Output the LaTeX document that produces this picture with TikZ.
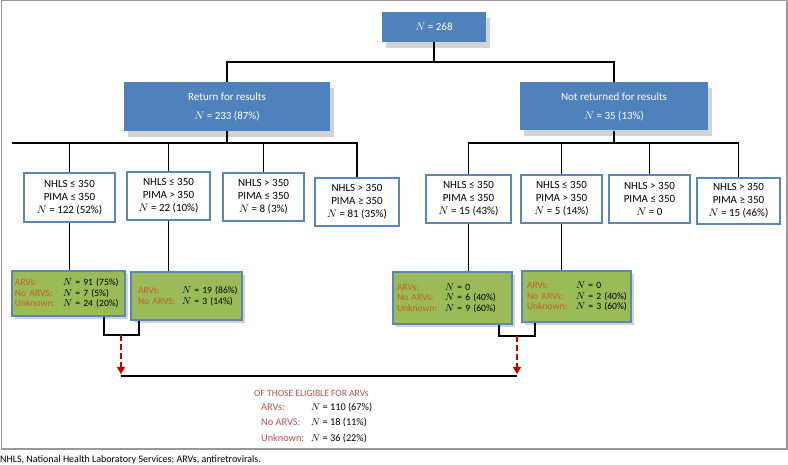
\documentclass[tikz,border=0pt]{standalone}
\usepackage{fontspec}
\setmainfont{Carlito}
\usetikzlibrary{shadows,arrows.meta}
\definecolor{headblue}{HTML}{4F81BD}
\definecolor{edgeblue}{HTML}{5B87B7}
\definecolor{arvgreen}{HTML}{9BBB59}
\definecolor{arvorange}{HTML}{C65F2E}
\definecolor{eligred}{HTML}{C0504D}
\definecolor{arrowred}{HTML}{C00000}
\definecolor{framegrey}{HTML}{999999}
\newcommand{\arv}[3][48pt]{\mbox{\makebox[#1][l]{\textcolor{arvorange}{#2}}#3}}
\newcommand{\elig}[2]{\mbox{\makebox[50pt][l]{\textcolor{eligred}{#1}}#2}}
\tikzset{
  headbox/.style={fill=headblue, text=white, align=center, inner sep=0pt,
    font=\fontsize{11}{13}\selectfont,
    drop shadow={shadow xshift=4pt, shadow yshift=-6pt, opacity=.35}},
  splitbox/.style={draw=edgeblue, line width=1.2pt, fill=white, align=center,
    inner sep=0pt, font=\fontsize{11}{13}\selectfont},
  arvbox/.style={draw=edgeblue, line width=1.2pt, fill=arvgreen, align=left,
    inner sep=0pt, font=\fontsize{9.6}{10.5}\selectfont,
    drop shadow={shadow xshift=3pt, shadow yshift=-3pt, opacity=.35}},
  link/.style={black, line width=1.1pt},
  eligarrow/.style={arrowred, line width=1.4pt, dash pattern=on 6pt off 3pt,
    -{Triangle[length=7pt,width=8pt]}, shorten >=2pt}
}
\begin{document}
\begin{tikzpicture}[x=1pt,y=-1pt]
    \useasboundingbox (0,0) rectangle (788,465);
    \draw[framegrey,line width=1.2pt] (1.2,0.8) rectangle (787,449);
    % all patients ==========================================
    \node[headbox,minimum width=104,minimum height=30] (all)    at (434,27)    {$N$ = 268};
    \node[headbox,minimum width=206,minimum height=49] (ret)    at (227,106.5) {Return for results\\[6pt]$N$ = 233 (87\%)};
    \node[headbox,minimum width=188,minimum height=48] (notret) at (614,106.5) {Not returned for results\\[6pt]$N$ = 35 (13\%)};
    \coordinate (topbus) at (434,62);
    \draw[link] (all) -- (topbus);
    \draw[link] (topbus) -| (ret.north);
    \draw[link] (topbus) -| (notret.north);
    % returned ==============================================
    \node[splitbox,minimum width=91,minimum height=49] (r1) at (69.5,197.5) {NHLS ≤ 350\\PIMA ≤ 350\\$N$ = 122 (52\%)};
    \node[splitbox,minimum width=83,minimum height=48] (r2) at (168.5,196)  {NHLS ≤ 350\\PIMA > 350\\$N$ = 22 (10\%)};
    \node[splitbox,minimum width=81,minimum height=48] (r3) at (263.5,197)  {NHLS > 350\\PIMA ≤ 350\\$N$ = 8 (3\%)};
    \node[splitbox,minimum width=84,minimum height=48] (r4) at (357,202)    {NHLS > 350\\PIMA ≥ 350\\$N$ = 81 (35\%)};
    \coordinate (retbus)    at (227,143);
    \coordinate (retbusend) at (12,143);
    \draw[link] (ret) -- (retbus);
    \draw[link] (retbusend) -- (retbus);
    \draw[link] (retbus) -| (r1.north);
    \draw[link] (retbus) -| (r2.north);
    \draw[link] (retbus) -| (r3.north);
    \draw[link] (retbus) -| (r4.north);
    % not returned ==========================================
    \node[splitbox,minimum width=85,minimum height=48] (n1) at (468.5,199) {NHLS ≤ 350\\PIMA ≤ 350\\$N$ = 15 (43\%)};
    \node[splitbox,minimum width=81,minimum height=48] (n2) at (561.5,199) {NHLS ≤ 350\\PIMA > 350\\$N$ = 5 (14\%)};
    \node[splitbox,minimum width=81,minimum height=48] (n3) at (649.5,199) {NHLS > 350\\PIMA ≤ 350\\$N$ = 0};
    \node[splitbox,minimum width=83,minimum height=46] (n4) at (738.5,201) {NHLS > 350\\PIMA ≥ 350\\$N$ = 15 (46\%)};
    \coordinate (notbus) at (614,143);
    \draw[link] (notret) -- (notbus);
    \draw[link] (notbus) -| (n1.north);
    \draw[link] (notbus) -| (n2.north);
    \draw[link] (notbus) -| (n3.north);
    \draw[link] (notbus) -| (n4.north);
    % ARV outcomes ==========================================
    \node[arvbox,minimum width=113,minimum height=45,text width=107] (g1) at (68.5,293.5)
      {\arv{ARVs:}{$N$ = 91 (75\%)}\\\arv{No ARVS:}{$N$ = 7 (5\%)}\\\arv{Unknown:}{$N$ = 24 (20\%)}};
    \node[arvbox,minimum width=111,minimum height=48,text width=97] (g2) at (186.5,296)
      {\arv[44pt]{ARVs:}{$N$ = 19 (86\%)}\\\arv[44pt]{No ARVS:}{$N$ = 3 (14\%)}};
    \node[arvbox,minimum width=119,minimum height=52,text width=111] (g3) at (452.5,298)
      {\arv{ARVs:}{$N$ = 0}\\\arv{No ARVs:}{$N$ = 6 (40\%)}\\\arv{Unknown:}{$N$ = 9 (60\%)}};
    \node[arvbox,minimum width=109,minimum height=51,text width=99] (g4) at (576.5,296.5)
      {\arv[49pt]{ARVs:}{$N$ = 0}\\\arv[49pt]{No ARVs:}{$N$ = 2 (40\%)}\\\arv[49pt]{Unknown:}{$N$ = 3 (60\%)}};
    \draw[link] (r1.south) -- (r1.south |- g1.north);
    \draw[link] (r2.south) -- (r2.south |- g2.north);
    \draw[link] (n1.south) -- (n1.south |- g3.north);
    \draw[link] (n2.south) -- (n2.south |- g4.north);
    % brackets and eligible total ===========================
    \coordinate (lmergeA) at (104,335); \coordinate (lmerge) at (121,335); \coordinate (lmergeB) at (139,335);
    \coordinate (rmergeA) at (499,336); \coordinate (rmerge) at (517,336); \coordinate (rmergeB) at (535,336);
    \draw[link] (g1.south -| lmergeA) -- (lmergeA) -- (lmergeB) -- (g2.south -| lmergeB);
    \draw[link] (g3.south -| rmergeA) -- (rmergeA) -- (rmergeB) -- (g4.south -| rmergeB);
    \coordinate (eligL) at (121,376);
    \coordinate (eligR) at (517,376);
    \draw[link] (eligL) -- (eligR);
    \draw[eligarrow] (lmerge) -- (eligL);
    \draw[eligarrow] (rmerge) -- (eligR);
    \node[anchor=base west,inner sep=0pt,text=eligred,font=\fontsize{9.6}{12}\selectfont] (eligtitle) at (254,396) {OF THOSE ELIGIBLE FOR ARVs};
    \node[anchor=north west,inner sep=0pt,align=left,font=\fontsize{10.3}{15.5}\selectfont] (eligrows) at (261,402.5)
      {\elig{ARVs:}{$N$ = 110 (67\%)}\\\elig{No ARVS:}{$N$ = 18 (11\%)}\\\elig{Unknown:}{$N$ = 36 (22\%)}};
    % footnote
    \node[anchor=base west,inner sep=0pt,font=\fontsize{10}{11}\selectfont] (footnote) at (0,462) {NHLS, National Health Laboratory Services; ARVs, antiretrovirals.};
\end{tikzpicture}
\end{document}
